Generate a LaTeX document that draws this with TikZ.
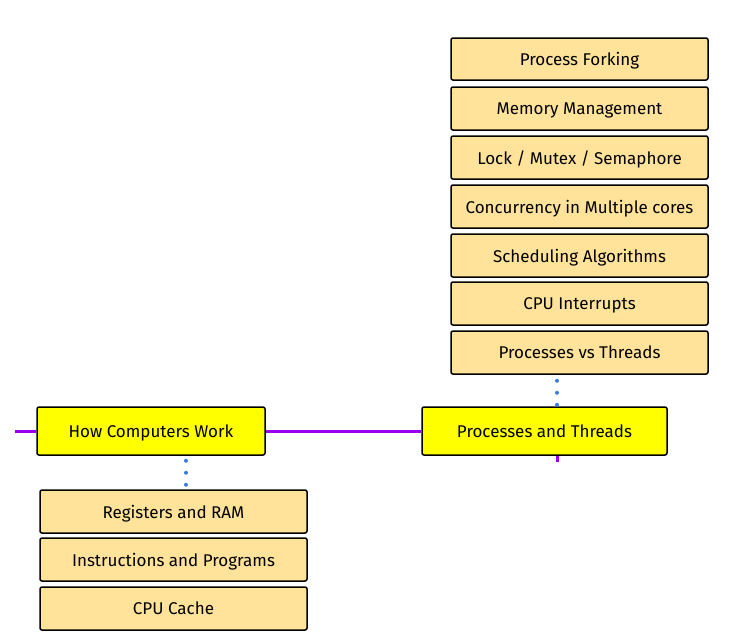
\documentclass[tikz,border=0pt]{standalone}
\usepackage{fontspec}
\setmainfont{Fira Sans}
\usetikzlibrary{positioning}

\definecolor{topicyellow}{RGB}{255,255,0}
\definecolor{subtopic}{RGB}{255,227,154}
\definecolor{roadline}{RGB}{153,0,238}
\definecolor{dotblue}{RGB}{59,125,216}

\tikzset{
    topic/.style={draw, line width=1.5pt, rounded corners=2pt, fill=topicyellow,
        minimum height=48pt, inner sep=0pt, text depth=0pt, font=\fontsize{17}{20}\selectfont},
    subbox/.style={draw, line width=1.5pt, rounded corners=2pt, fill=subtopic,
        minimum height=43pt, inner sep=0pt, text depth=0pt, font=\fontsize{17}{20}\selectfont},
    road/.style={roadline, line width=3pt}
}

\begin{document}
\begin{tikzpicture}[x=1pt, y=-1pt]
    \useasboundingbox (0,0) rectangle (747,640);

    % main topics
    \node [topic, minimum width=228pt] (hcw) at (151,431) {How Computers Work};
    \node [topic, minimum width=245pt] (pat) at (544.5,431) {Processes and Threads};

    % subtopics below
    \node [subbox, minimum width=267pt] (reg) at (173.5,511.5) {Registers and RAM};
    \node [subbox, minimum width=267pt] (ins) at (173.5,559.5) {Instructions and Programs};
    \node [subbox, minimum width=267pt] (cache) at (173.5,608.5) {CPU Cache};

    % subtopics above
    \node [subbox, minimum width=257pt, minimum height=42pt] (fork) at (579.5,59) {Process Forking};
    \node [subbox, minimum width=257pt] (mem) at (579.5,108.5) {Memory Management};
    \node [subbox, minimum width=257pt] (lock) at (579.5,157.5) {Lock / Mutex / Semaphore};
    \node [subbox, minimum width=257pt] (conc) at (579.5,206.5) {Concurrency in Multiple cores};
    \node [subbox, minimum width=257pt] (sched) at (579.5,255.5) {Scheduling Algorithms};
    \node [subbox, minimum width=257pt] (intr) at (579.5,303.5) {CPU Interrupts};
    \node [subbox, minimum width=257pt] (pvt) at (579.5,352.5) {Processes vs Threads};

    % road
    \coordinate (start) at (15,431);
    \coordinate (tail) at (557,462);
    \draw [road] (start) -- (hcw.west);
    \draw [road] (hcw.east) -- (pat.west);
    \draw [road] (pat.south -| tail) -- (tail);

    % dotted links
    \foreach \d in {5,17,29}
        \fill [dotblue] ([yshift=-\d pt]hcw.south -| 186,0) circle [radius=2pt];
    \foreach \d in {6,18,30}
        \fill [dotblue] ([yshift=-\d pt]pvt.south -| tail) circle [radius=2pt];
\end{tikzpicture}
\end{document}
